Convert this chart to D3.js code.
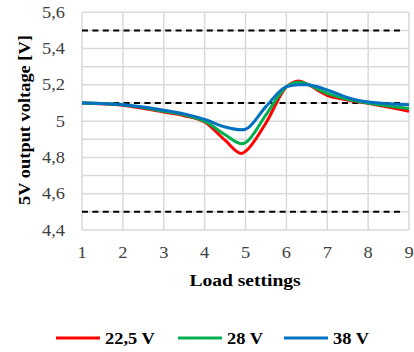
<!DOCTYPE html>
<html><head><meta charset="utf-8">
<script src="https://cdn.jsdelivr.net/npm/d3@7"></script>
<style>body{margin:0;background:#fff}svg{display:block}</style>
</head><body><svg id="c" width="414" height="352"></svg>
<script>
const loadX   = [1, 2, 3, 3.5, 4, 4.5, 4.9, 5, 5.5, 6, 6.3, 6.5, 7, 7.5, 8, 9];
const v22_5   = [5.1, 5.088, 5.05, 5.03, 4.995, 4.895, 4.822, 4.834, 4.99, 5.188, 5.222, 5.205, 5.142, 5.117, 5.098, 5.055];
const v28     = [5.1, 5.09, 5.055, 5.035, 5.0, 4.925, 4.876, 4.882, 5.035, 5.19, 5.215, 5.205, 5.153, 5.12, 5.1, 5.07];
const v38     = [5.1, 5.09, 5.06, 5.04, 5.01, 4.968, 4.952, 4.955, 5.08, 5.19, 5.2, 5.2, 5.172, 5.13, 5.105, 5.09];
const seriesNames = ["22,5 V", "28 V", "38 V"];
const seriesColors = ["#ff0000", "#00b050", "#0070c0"];
const limits = [5.5, 5.1, 4.5];
const xTicks = [1,2,3,4,5,6,7,8,9];
const yTicks = [4.4,4.6,4.8,5.0,5.2,5.4,5.6];

const FONT = "'Liberation Serif', Tinos, 'Times New Roman', serif";
const SX = 1.15;
const svg = d3.select("#c");
const x = d3.scaleLinear().domain([1,9]).range([82,409]);
const y = d3.scaleLinear().domain([4.4,5.6]).range([230,12.3]);

function txt(px, py, s, opts={}) {
  const t = svg.append("text")
    .attr("transform", `translate(${px},${py})${opts.rot?" rotate(-90)":""} scale(${SX},1)`)
    .attr("font-family", FONT).attr("font-size", opts.size||16)
    .attr("text-anchor", opts.anchor||"start")
    .attr("fill", opts.fill||"#000").text(s);
  if (opts.bold) t.attr("font-weight","bold");
  return t;
}

// grid
svg.selectAll("line.v").data(xTicks).join("line").attr("class","v")
  .attr("x1",d=>x(d)).attr("x2",d=>x(d)).attr("y1",y(5.6)).attr("y2",y(4.4))
  .attr("stroke","#d9d9d9").attr("stroke-width",1.5);
svg.selectAll("line.h").data(d3.range(0,13)).join("line").attr("class","h")
  .attr("x1",x(1)).attr("x2",x(9)).attr("y1",d=>y(4.4+d*0.1)).attr("y2",d=>y(4.4+d*0.1))
  .attr("stroke","#d9d9d9").attr("stroke-width",1.5);

// limit lines
svg.selectAll("line.lim").data(limits).join("line").attr("class","lim")
  .attr("x1",x(1)).attr("x2",x(8.85)).attr("y1",d=>y(d)).attr("y2",d=>y(d))
  .attr("stroke","#000").attr("stroke-width",2).attr("stroke-dasharray","6,4.4");

// tick labels
const fmt = d => d3.format(".1f")(d).replace(".",",").replace(",0","");
yTicks.forEach(d => txt(65, y(d)+5.5, fmt(d), {anchor:"end", fill:"#404040"}));
xTicks.forEach(d => txt(x(d), 258, d, {anchor:"middle", fill:"#404040"}));

txt(245, 286, "Load settings", {anchor:"middle", bold:true, size:17});
txt(30, 120, "5V output voltage [V]", {anchor:"middle", bold:true, size:16, rot:true});

// lines
const all = [v22_5, v28, v38];
const line = d3.line().x((d,i)=>x(loadX[i])).y(d=>y(d)).curve(d3.curveMonotoneX);
all.forEach((s,i)=>{
  svg.append("path").datum(s).attr("d",line).attr("fill","none")
    .attr("stroke",seriesColors[i]).attr("stroke-width",3).attr("stroke-linejoin","round");
});

// legend
const legX = [56, 178, 284];
seriesNames.forEach((n,i)=>{
  svg.append("line").attr("x1",legX[i]).attr("x2",legX[i]+44).attr("y1",338).attr("y2",338)
    .attr("stroke",seriesColors[i]).attr("stroke-width",3);
  txt(legX[i]+49, 344, n, {bold:true, size:16});
});
</script></body></html>
